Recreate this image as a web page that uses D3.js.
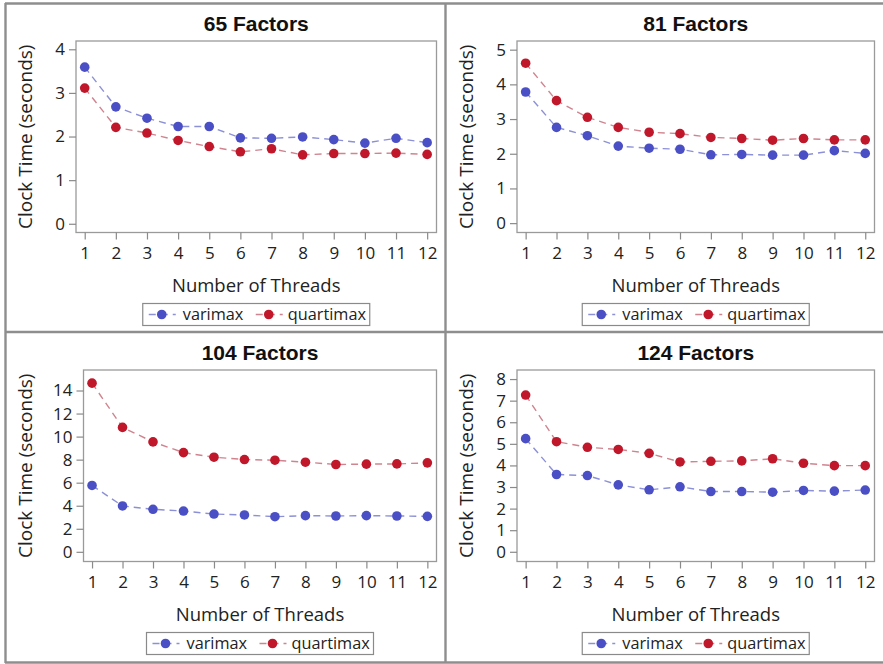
<!DOCTYPE html>
<html>
<head>
<meta charset="utf-8">
<script src="https://cdn.jsdelivr.net/npm/d3@7"></script>
<style>
  html, body { margin: 0; padding: 0; background: #fff; }
  svg { display: block; }
</style>
</head>
<body>
<svg id="chart" width="883" height="664"></svg>
<script>
// Thread counts shared by every panel
const threads = [1, 2, 3, 4, 5, 6, 7, 8, 9, 10, 11, 12];

// Panel titles
const panelTitles = ["65 Factors", "81 Factors", "104 Factors", "124 Factors"];

// Clock time (seconds) per panel, varimax rotation
const varimax65  = [3.59, 2.68, 2.42, 2.23, 2.23, 1.97, 1.96, 1.99, 1.93, 1.85, 1.96, 1.86];
const varimax81  = [3.78, 2.76, 2.52, 2.22, 2.16, 2.13, 1.97, 1.98, 1.96, 1.96, 2.09, 2.01];
const varimax104 = [5.76, 3.98, 3.69, 3.54, 3.28, 3.20, 3.05, 3.14, 3.11, 3.14, 3.11, 3.08];
const varimax124 = [5.24, 3.58, 3.53, 3.10, 2.87, 3.01, 2.79, 2.79, 2.76, 2.84, 2.81, 2.86];

// Clock time (seconds) per panel, quartimax rotation
const quartimax65  = [3.11, 2.21, 2.08, 1.91, 1.77, 1.65, 1.72, 1.58, 1.61, 1.61, 1.62, 1.59];
const quartimax81  = [4.61, 3.53, 3.05, 2.76, 2.62, 2.58, 2.47, 2.44, 2.39, 2.44, 2.40, 2.40];
const quartimax104 = [14.64, 10.80, 9.54, 8.61, 8.21, 8.01, 7.95, 7.78, 7.58, 7.61, 7.63, 7.72];
const quartimax124 = [7.26, 5.10, 4.84, 4.74, 4.56, 4.16, 4.19, 4.21, 4.31, 4.10, 3.99, 3.99];

// Y tick labels per panel
const yTicks65  = [0, 1, 2, 3, 4];
const yTicks81  = [0, 1, 2, 3, 4, 5];
const yTicks104 = [0, 2, 4, 6, 8, 10, 12, 14];
const yTicks124 = [0, 1, 2, 3, 4, 5, 6, 7, 8];

// Y axis extents per panel
const yDomain65  = [-0.2, 4.19];
const yDomain81  = [-0.27, 5.25];
const yDomain104 = [-0.84, 15.78];
const yDomain124 = [-0.45, 8.42];

const seriesNames = ["varimax", "quartimax"];

const panels = [
  { title: panelTitles[0], v: varimax65,  q: quartimax65,  ticks: yTicks65,  dom: yDomain65 },
  { title: panelTitles[1], v: varimax81,  q: quartimax81,  ticks: yTicks81,  dom: yDomain81 },
  { title: panelTitles[2], v: varimax104, q: quartimax104, ticks: yTicks104, dom: yDomain104 },
  { title: panelTitles[3], v: varimax124, q: quartimax124, ticks: yTicks124, dom: yDomain124 }
];

const markerColor = { varimax: "#4b4fc6", quartimax: "#c0172b" };
const lineColor   = { varimax: "#8c90d6", quartimax: "#d0848f" };

const svg = d3.select("#chart");
const FONT = "'Open Sans', 'DejaVu Sans', sans-serif";
const TITLE_FONT = "'Liberation Sans', Arial, sans-serif";

// Cell geometry: [left, top, right]
const cells = [
  { x0: 5,   y0: 3,   x1: 445 },
  { x0: 446, y0: 3,   x1: 883 },
  { x0: 5,   y0: 332, x1: 445 },
  { x0: 446, y0: 332, x1: 883 }
];

panels.forEach((p, i) => {
  const c = cells[i];
  const g = svg.append("g");
  const wideLabels = d3.max(p.ticks) >= 10;
  const plotLeft = c.x0 + (wideLabels ? 78.5 : 71);
  const plotRight = c.x1 - 8.5;
  const plotTop = c.y0 + 38;
  const plotBottom = c.y0 + 229.5;

  const x = d3.scaleLinear().domain([0.72, 12.3]).range([plotLeft, plotRight]);
  const y = d3.scaleLinear().domain(p.dom).range([plotBottom, plotTop]);

  // plot frame
  g.append("rect")
    .attr("x", plotLeft).attr("y", plotTop)
    .attr("width", plotRight - plotLeft).attr("height", plotBottom - plotTop)
    .attr("fill", "#fff").attr("stroke", "#9a9a9a").attr("stroke-width", 1.3);

  // y axis
  const yAxis = g.append("g")
    .attr("transform", `translate(${plotLeft},0)`)
    .call(d3.axisLeft(y).tickValues(p.ticks).tickSize(7).tickPadding(4).tickFormat(d3.format("d")));
  yAxis.select(".domain").remove();
  yAxis.selectAll("line").attr("stroke", "#8a8a8a").attr("stroke-width", 1.2);
  yAxis.selectAll("text").attr("fill", "#222").style("font-family", FONT).style("font-size", "17px");

  // x axis
  const xAxis = g.append("g")
    .attr("transform", `translate(0,${plotBottom})`)
    .call(d3.axisBottom(x).tickValues(threads).tickSize(7).tickPadding(7).tickFormat(d3.format("d")));
  xAxis.select(".domain").remove();
  xAxis.selectAll("line").attr("stroke", "#8a8a8a").attr("stroke-width", 1.2);
  xAxis.selectAll("text").attr("fill", "#222").style("font-family", FONT).style("font-size", "17px");

  const cx = (plotLeft + plotRight) / 2;

  // panel title
  g.append("text")
    .attr("x", cx).attr("y", c.y0 + 27.5)
    .attr("text-anchor", "middle")
    .style("font-family", TITLE_FONT).style("font-weight", "bold").style("font-size", "21px")
    .attr("fill", "#111")
    .text(p.title);

  // axis titles
  g.append("text")
    .attr("x", cx).attr("y", plotBottom + 59)
    .attr("text-anchor", "middle")
    .style("font-family", FONT).style("font-size", "18.5px").attr("fill", "#222")
    .text("Number of Threads");

  g.append("text")
    .attr("transform", `translate(${c.x0 + 26.5},${(plotTop + plotBottom) / 2}) rotate(-90)`)
    .attr("text-anchor", "middle")
    .style("font-family", FONT).style("font-size", "19px").attr("fill", "#222")
    .text("Clock Time (seconds)");

  // series
  const line = d3.line().x((d, k) => x(threads[k])).y(d => y(d));
  const series = [{ name: "varimax", vals: p.v }, { name: "quartimax", vals: p.q }];
  series.forEach(s => {
    g.append("path")
      .attr("d", line(s.vals))
      .attr("fill", "none")
      .attr("stroke", lineColor[s.name])
      .attr("stroke-width", 1.4)
      .attr("stroke-dasharray", "7,5");
  });
  series.forEach(s => {
    g.selectAll(null).data(s.vals).enter().append("circle")
      .attr("cx", (d, k) => x(threads[k]))
      .attr("cy", d => y(d))
      .attr("r", 4.8)
      .attr("fill", markerColor[s.name]);
  });

  // legend
  const legW = 227, legH = 22;
  const lx = cx - legW / 2, ly = plotBottom + 71;
  const lg = g.append("g").attr("transform", `translate(${lx},${ly})`);
  lg.append("rect").attr("width", legW).attr("height", legH)
    .attr("fill", "#fff").attr("stroke", "#8a8a8a").attr("stroke-width", 1.2);
  const entries = [
    { name: seriesNames[0], sx: 5, tx: 40 },
    { name: seriesNames[1], sx: 112, tx: 145 }
  ];
  entries.forEach(e => {
    lg.append("line")
      .attr("x1", e.sx).attr("x2", e.sx + 28)
      .attr("y1", legH / 2).attr("y2", legH / 2)
      .attr("stroke", lineColor[e.name]).attr("stroke-width", 1.4)
      .attr("stroke-dasharray", "7,5").attr("stroke-dashoffset", -1);
    lg.append("circle").attr("cx", e.sx + 14).attr("cy", legH / 2).attr("r", 4.8)
      .attr("fill", markerColor[e.name]);
    lg.append("text").attr("x", e.tx).attr("y", legH / 2).attr("dy", "0.35em")
      .style("font-family", FONT).style("font-size", "16.3px").attr("fill", "#222")
      .text(e.name);
  });
});

// outer border and cell dividers
const border = svg.append("g").attr("fill", "none").attr("stroke", "#8e8e8e").attr("stroke-width", 2.4);
border.append("line").attr("x1", 5).attr("x2", 883).attr("y1", 3.5).attr("y2", 3.5);
border.append("line").attr("x1", 5.5).attr("x2", 5.5).attr("y1", 3).attr("y2", 663);
border.append("line").attr("x1", 5).attr("x2", 883).attr("y1", 662.5).attr("y2", 662.5);
border.append("line").attr("x1", 445.5).attr("x2", 445.5).attr("y1", 3).attr("y2", 663);
border.append("line").attr("x1", 5).attr("x2", 883).attr("y1", 332).attr("y2", 332);
</script>
</body>
</html>
